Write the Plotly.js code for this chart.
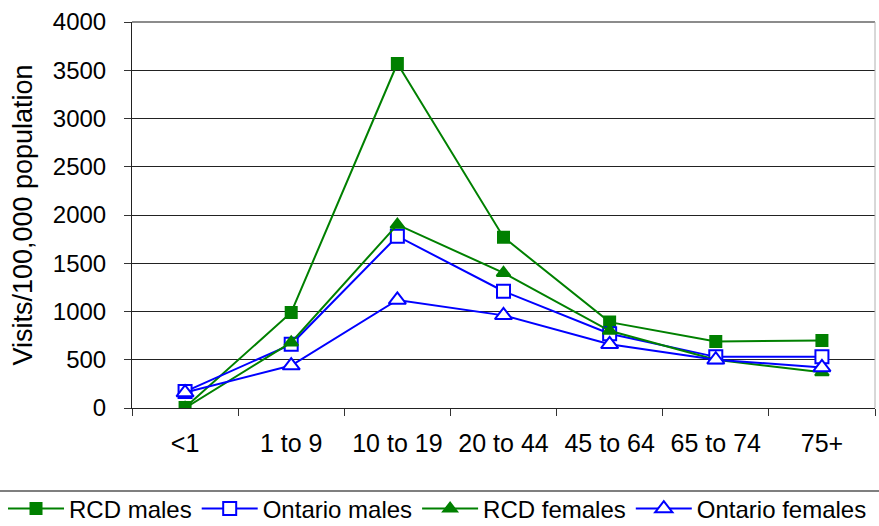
<!DOCTYPE html>
<html>
<head>
<meta charset="utf-8">
<script src="https://cdn.plot.ly/plotly-3.0.1.min.js"></script>
<style>
  html, body { margin: 0; padding: 0; background: #fff; }
  #chart { width: 879px; height: 526px; }
</style>
</head>
<body>
<div id="chart"></div>
<script>
// Age groups on the category axis
const ageGroups = ['<1', '1 to 9', '10 to 19', '20 to 44', '45 to 64', '65 to 74', '75+'];

// Visits per 100,000 population
const rcdMales       = [5, 990, 3570, 1770, 890, 690, 700];
const ontarioMales   = [170, 660, 1780, 1210, 770, 530, 530];
const rcdFemales     = [0, 680, 1900, 1400, 800, 500, 370];
const ontarioFemales = [160, 440, 1120, 960, 660, 500, 420];

const yTicks = [0, 500, 1000, 1500, 2000, 2500, 3000, 3500, 4000];

const GREEN = '#008000';
const BLUE = '#0000FF';
const FONT = 'Liberation Sans, Arial, sans-serif';

function series(name, values, color, symbol, size, open) {
  return {
    type: 'scatter',
    mode: 'lines+markers',
    name: name,
    x: ageGroups,
    y: values,
    line: { color: color, width: 2 },
    marker: {
      symbol: symbol,
      size: size,
      color: open ? '#ffffff' : color,
      line: { color: color, width: 2 }
    }
  };
}

const traces = [
  series('RCD males', rcdMales, GREEN, 'square', 11, false),
  series('Ontario males', ontarioMales, BLUE, 'square', 13, true),
  series('RCD females', rcdFemales, GREEN, 'triangle-up', 12, false),
  series('Ontario females', ontarioFemales, BLUE, 'triangle-up', 15, true)
];

const layout = {
  width: 879,
  height: 526,
  margin: { l: 132, r: 4, t: 22, b: 118, pad: 0, autoexpand: false },
  paper_bgcolor: '#ffffff',
  plot_bgcolor: '#ffffff',
  font: { family: FONT, color: '#000', size: 22 },
  showlegend: true,
  legend: {
    orientation: 'h',
    x: -0.1736,
    xanchor: 'left',
    y: -0.2617,
    yanchor: 'middle',
    itemwidth: 56,
    font: { family: FONT, size: 24, color: '#000' },
    bgcolor: 'rgba(0,0,0,0)',
    itemclick: false
  },
  xaxis: {
    type: 'category',
    tickvals: ageGroups,
    ticktext: ageGroups,
    range: [-0.5, 6.5],
    tickson: 'boundaries',
    ticks: 'outside',
    ticklen: 7,
    tickcolor: '#333',
    tickwidth: 1,
    ticklabelstandoff: 13,
    showline: true,
    linecolor: '#222',
    linewidth: 1,
    showgrid: false,
    zeroline: false,
    tickfont: { family: FONT, size: 25, color: '#000' },
    fixedrange: true
  },
  yaxis: {
    range: [0, 4000],
    tickvals: yTicks,
    ticktext: yTicks.map(String),
    ticks: 'outside',
    ticklen: 7,
    tickcolor: '#333',
    tickwidth: 1,
    ticklabelstandoff: 13,
    showline: true,
    linecolor: '#222',
    linewidth: 1,
    showgrid: true,
    gridcolor: '#222',
    gridwidth: 1,
    zeroline: false,
    tickfont: { family: FONT, size: 24, color: '#000' },
    title: {
      text: 'Visits/100,000 population',
      font: { family: FONT, size: 27, color: '#000' },
      standoff: 12
    },
    fixedrange: true
  },
  shapes: [
    // light frame along the top and right of the plot area
    { type: 'line', xref: 'paper', yref: 'paper', x0: 0, x1: 1, y0: 1, y1: 1,
      line: { color: '#8c8c8c', width: 2 }, layer: 'above' },
    { type: 'line', xref: 'paper', yref: 'paper', x0: 1, x1: 1, y0: 0, y1: 1,
      line: { color: '#b0b0b0', width: 1 }, layer: 'above' },
    // rule above the legend
    { type: 'line', xref: 'paper', yref: 'paper', x0: -0.2, x1: 1.01, y0: -0.215, y1: -0.215,
      line: { color: '#555', width: 1.5 } }
  ]
};

Plotly.newPlot('chart', traces, layout, { displayModeBar: false, staticPlot: true });
</script>
</body>
</html>
